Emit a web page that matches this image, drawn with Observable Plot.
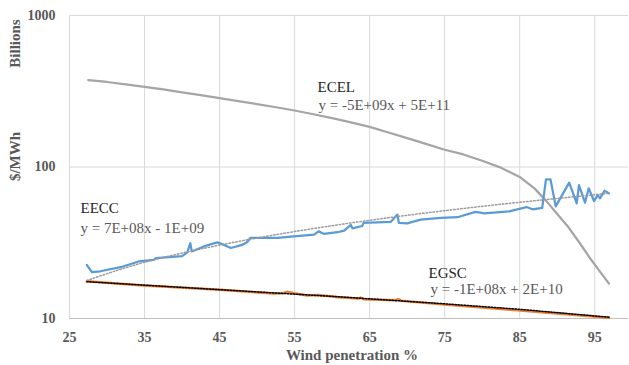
<!DOCTYPE html>
<html>
<head>
<meta charset="utf-8">
<script src="https://cdn.jsdelivr.net/npm/d3@7"></script>
<script src="https://cdn.jsdelivr.net/npm/@observablehq/plot@0.6"></script>
<style>
  html, body { margin: 0; padding: 0; background: #fff; }
  #chart svg { display: block; }
</style>
</head>
<body>
<div id="chart"></div>
<script>
// Wind penetration (%) and cost values (billions $/MWh)
const ecelX = [27.5, 30, 32.5, 35, 37.5, 40, 42.5, 45, 47.5, 50, 52.5, 55, 57.5, 60, 62.5, 65, 67.5, 70, 72.5, 75, 77.5, 80, 82.5, 85, 87, 88.5, 90, 91.5, 93, 94.5, 95.5, 96.9];
const ecelY = [375, 364, 351, 338, 325, 311, 298, 285, 272, 260, 248, 236, 223, 210, 197, 184, 169, 155, 142, 130, 121, 110, 99, 86, 72, 60, 49, 40, 31.5, 24.5, 21, 17];

const eeccX = [27.3, 28.0, 29.1, 31.8, 34.2, 36.2, 36.5, 40.0, 40.7, 41.1, 41.3, 42.9, 44.7, 45.6, 46.5, 48.0, 48.7, 49.1, 52.7, 54.9, 57.6, 58.2, 58.9, 60.7, 61.6, 62.5, 62.7, 64.0, 64.2, 67.8, 68.7, 68.9, 70.0, 71.8, 74.5, 76.7, 79.1, 80.3, 83.6, 85.9, 86.7, 88.0, 88.5, 89.1, 89.8, 91.6, 92.6, 92.9, 93.7, 94.2, 94.9, 95.4, 95.7, 96.3, 96.9];
const eeccY = [22.6, 20.2, 20.5, 21.8, 23.8, 24.4, 25.0, 25.8, 27.3, 31.4, 27.7, 29.9, 31.8, 30.6, 29.2, 30.6, 32.0, 34.0, 34.1, 34.9, 35.8, 37.6, 36.2, 37.1, 38.0, 41.5, 39.4, 40.8, 42.8, 43.4, 48.5, 42.8, 42.4, 44.9, 46.2, 46.6, 50.5, 49.4, 51.0, 54.4, 52.6, 53.8, 82.9, 82.9, 55, 78.8, 57.5, 76, 58.1, 72.3, 59.6, 65.3, 62.1, 69.7, 67];

const eeccTrendX = [27.3, 35, 45, 55, 65, 75, 85, 96.9];
const eeccTrendY = [17.8, 23.5, 30.5, 37.5, 44.5, 51.5, 58.5, 67];

const egscX = [27.3, 34.9, 45.1, 52.2, 53.5, 54.0, 54.9, 56.7, 58.1, 60.9, 63.5, 63.8, 64.2, 68.5, 68.8, 69.2, 75.4, 85.1, 96.9];
const egscY = [17.6, 16.5, 15.5, 14.6, 14.7, 15.0, 14.7, 14.2, 14.3, 13.8, 13.55, 13.75, 13.4, 13.2, 13.4, 13.1, 12.3, 11.3, 10.1];

const egscTrendX = [27.3, 45, 60, 75, 85, 96.9];
const egscTrendY = [17.5, 15.5, 14.0, 12.5, 11.5, 10.2];

const xTicks = [25, 35, 45, 55, 65, 75, 85, 95];
const yTicks = [10, 100, 1000];
const xTickLabels = ["25", "35", "45", "55", "65", "75", "85", "95"];
const yTickLabels = ["10", "100", "1000"];

const zip = (xs, ys) => xs.map((x, i) => ({x, y: ys[i]}));
const ecel = zip(ecelX, ecelY);
const eecc = zip(eeccX, eeccY);
const eeccTrend = zip(eeccTrendX, eeccTrendY);
const egsc = zip(egscX, egscY);
const egscTrend = zip(egscTrendX, egscTrendY);
const yTickData = yTicks.map((v, i) => ({v, label: yTickLabels[i]}));

const serif = "Liberation Serif";
const note = (text, dx, dy, fill) => Plot.text([text], {
  frameAnchor: "top-left", dx, dy, text: d => d,
  textAnchor: "start", lineAnchor: "middle",
  fontSize: 15, fontFamily: serif, fill
});
const boldGray = {fontSize: 15, fontWeight: "bold", fill: "#595959", fontFamily: serif};

const chart = Plot.plot({
  width: 629,
  height: 365,
  marginLeft: 69,
  marginRight: 1,
  marginTop: 15,
  marginBottom: 47,
  style: {background: "#fff", overflow: "visible", fontFamily: serif},
  x: {type: "linear", domain: [25, 99.5], axis: null},
  y: {type: "log", domain: [10, 1000], axis: null},
  marks: [
    Plot.gridX(xTicks, {stroke: "#d9d9d9", strokeOpacity: 1}),
    Plot.gridY([100, 1000], {stroke: "#d9d9d9", strokeOpacity: 1}),
    Plot.ruleY([10], {stroke: "#bfbfbf", strokeWidth: 1}),
    Plot.text(xTicks, {x: d => d, text: (d, i) => xTickLabels[i], frameAnchor: "bottom", dy: 19, textAnchor: "middle", lineAnchor: "middle", fontSize: 14, fontWeight: "bold", fill: "#595959", fontFamily: serif}),
    Plot.text(yTickData, {y: "v", text: "label", frameAnchor: "left", dx: -14, textAnchor: "end", lineAnchor: "middle", fontSize: 14, fontWeight: "bold", fill: "#595959", fontFamily: serif}),
    Plot.line(ecel, {x: "x", y: "y", stroke: "#a5a5a5", strokeWidth: 2.25}),
    Plot.line(egsc, {x: "x", y: "y", stroke: "#ed7d31", strokeWidth: 2.5}),
    Plot.line(egscTrend, {x: "x", y: "y", stroke: "#000", strokeWidth: 1.5, strokeDasharray: "1.5 1.5"}),
    Plot.line(eecc, {x: "x", y: "y", stroke: "#5b9bd5", strokeWidth: 2.25}),
    Plot.line(eeccTrend, {x: "x", y: "y", stroke: "#9a9a9a", strokeWidth: 1.5, strokeDasharray: "1.5 2", curve: "natural"}),
    note("ECEL", 248, 72, "#262626"),
    note("y = -5E+09x + 5E+11", 249, 90, "#595959"),
    note("EECC", 11, 193, "#262626"),
    note("y = 7E+08x - 1E+09", 11, 213, "#595959"),
    note("EGSC", 359, 258, "#262626"),
    note("y = -1E+08x + 2E+10", 361, 274, "#595959"),
    Plot.text(["Wind penetration %"], {frameAnchor: "bottom", dx: 3, dy: 37, textAnchor: "middle", lineAnchor: "middle", text: d => d, ...boldGray}),
    Plot.text(["Billions"], {frameAnchor: "top-left", dx: -54, dy: 28, rotate: -90, textAnchor: "middle", lineAnchor: "middle", text: d => d, ...boldGray}),
    Plot.text(["$/MWh"], {frameAnchor: "top-left", dx: -54, dy: 141, rotate: -90, textAnchor: "middle", lineAnchor: "middle", text: d => d, ...boldGray})
  ]
});
document.getElementById("chart").appendChild(chart);
</script>
</body>
</html>
